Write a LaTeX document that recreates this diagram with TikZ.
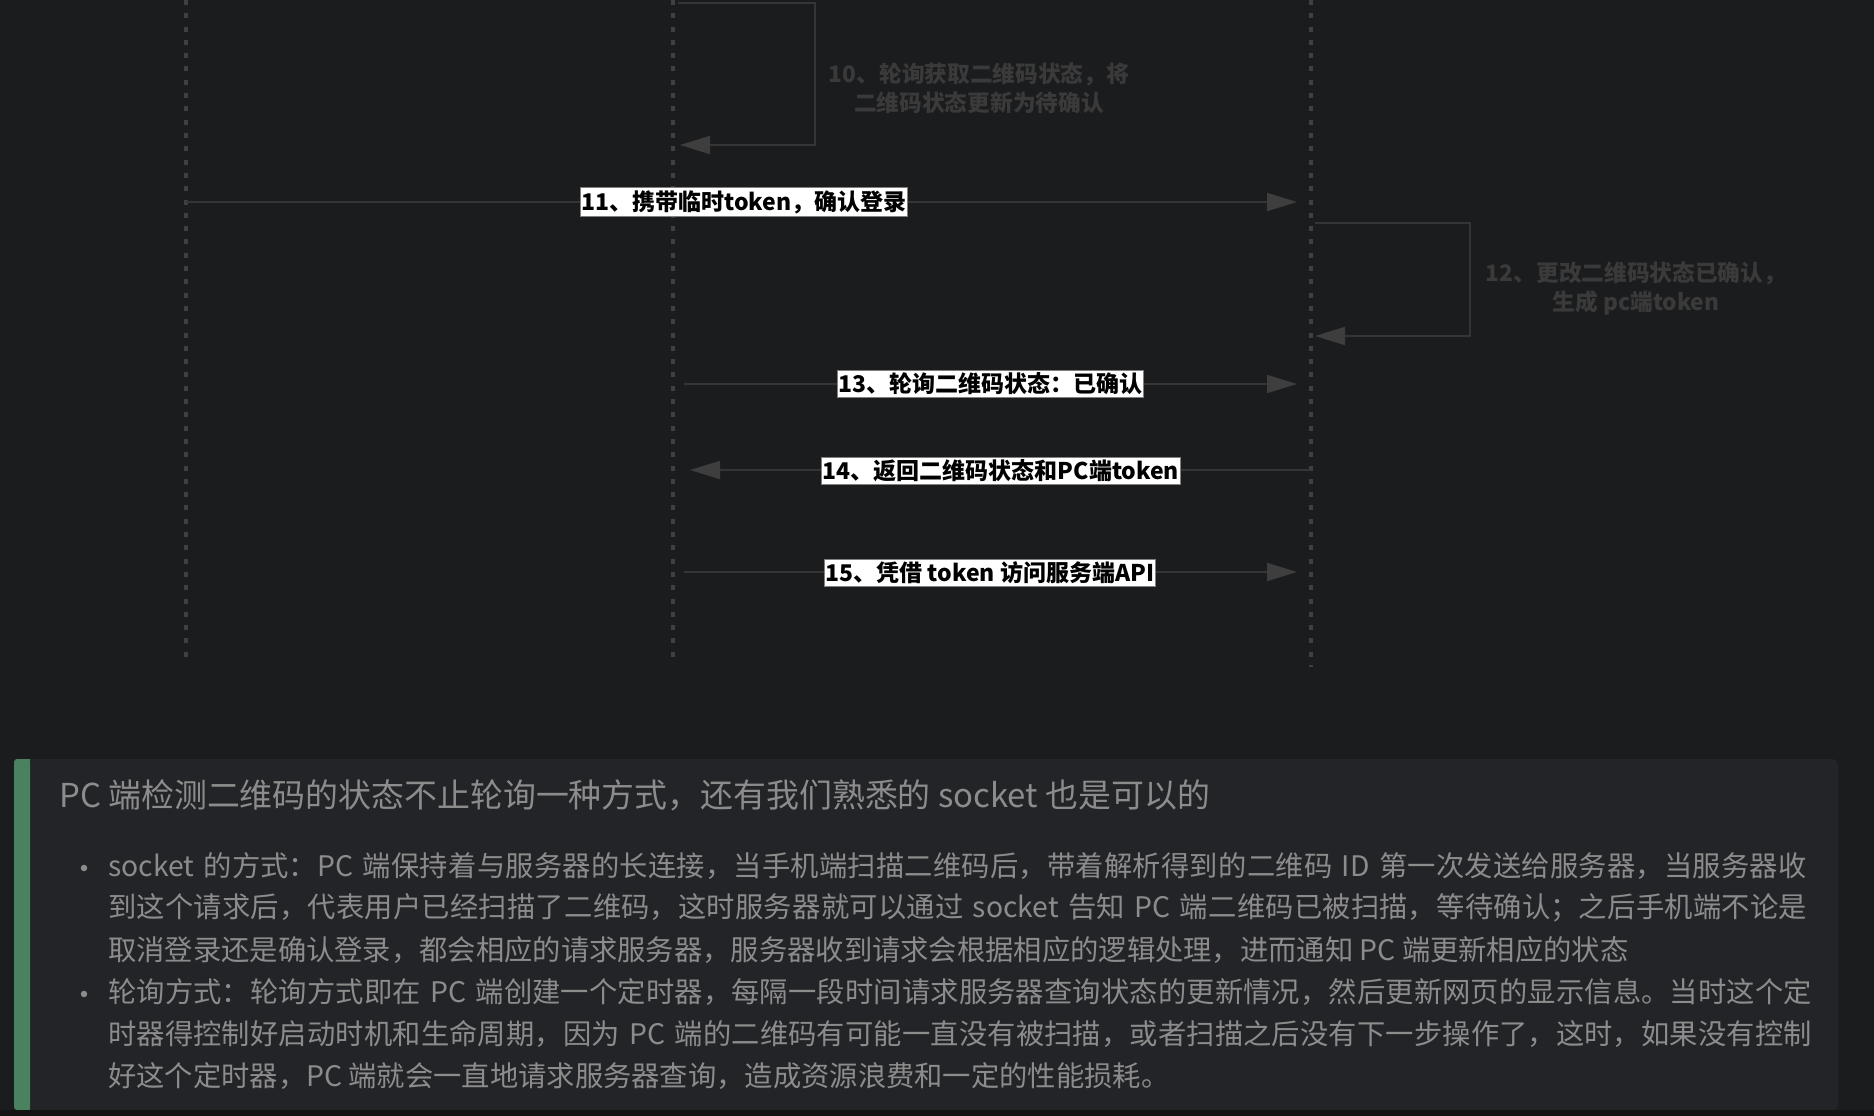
\documentclass[tikz,border=0pt]{standalone}
\usepackage{fontspec}
\setmainfont{Noto Sans CJK SC}
\usetikzlibrary{arrows.meta,positioning}

\XeTeXlinebreaklocale "zh"
\XeTeXlinebreakskip=0pt plus 1pt

\definecolor{pagebg}{HTML}{1B1C1E}
\definecolor{panelbg}{HTML}{232427}
\definecolor{stripbg}{HTML}{141415}
\definecolor{quotegreen}{HTML}{4A8260}
\definecolor{lifegray}{HTML}{404040}
\definecolor{msggray}{HTML}{353535}
\definecolor{tipgray}{HTML}{3E3E3E}
\definecolor{notegray}{HTML}{3A3A3A}
\definecolor{bodygray}{HTML}{8C8C8C}

\tikzset{
  lifeline/.style={draw=lifegray, line width=3.5pt, dash pattern=on 5pt off 8.3pt},
  msg/.style={draw=msggray, line width=2pt,
    -{Triangle[length=30pt,width=18pt,color=tipgray]}},
  msglabel/.style={draw=gray, line width=1pt, fill=white, text=black,
    inner xsep=1pt, inner ysep=2.5pt, font=\fontsize{23}{26}\selectfont\bfseries},
  loopnote/.style={text=notegray, align=center,
    font=\fontsize{22.7}{29}\selectfont\bfseries},
  bodytext/.style={text=bodygray, inner sep=0pt, anchor=west},
  bullet/.style={circle, fill=bodygray, inner sep=0pt, minimum size=6.5pt}
}

\newcommand{\fullline}[1]{\noindent\parfillskip=0pt #1\par}

\begin{document}
\begin{tikzpicture}[x=1pt,y=-1pt]
  \fill[pagebg] (0,0) rectangle (1874,1116);
  \useasboundingbox (0,0) rectangle (1874,1116);

  % lifelines
  \coordinate (phoneTop) at (186,0);
  \coordinate (phoneEnd) at (186,661);
  \coordinate (pcTop) at (673,0);
  \coordinate (pcEnd) at (673,661);
  \coordinate (serverTop) at (1311,0);
  \coordinate (serverEnd) at (1311,667);
  \draw[lifeline] (phoneTop) -- (phoneEnd);
  \draw[lifeline] (pcTop) -- (pcEnd);
  \draw[lifeline] (serverTop) -- (serverEnd);

  % 10
  \coordinate (loop10a) at (678,3);
  \coordinate (loop10b) at (815,3);
  \coordinate (loop10c) at (815,145);
  \coordinate (loop10d) at (673,145);
  \draw[msg, shorten >=7pt] (loop10a) -- (loop10b) -- (loop10c) -- (loop10d);
  \node[loopnote] (note10) at (979,88) {10、轮询获取二维码状态，将\\二维码状态更新为待确认};

  % 11
  \coordinate (msg11s) at (186,202);
  \coordinate (msg11e) at (1311,202);
  \draw[msg, shorten >=14pt] (msg11s) -- (msg11e);
  \node[msglabel] (label11) at (744,202) {11、携带临时token，确认登录};

  % 12
  \coordinate (loop12a) at (1315,223);
  \coordinate (loop12b) at (1470,223);
  \coordinate (loop12c) at (1470,336);
  \coordinate (loop12d) at (1311,336);
  \draw[msg, shorten >=4pt] (loop12a) -- (loop12b) -- (loop12c) -- (loop12d);
  \node[loopnote] (note12) at (1636,288) {12、更改二维码状态已确认，\\生成 pc端token};

  % 13
  \coordinate (msg13s) at (673,384);
  \coordinate (msg13e) at (1311,384);
  \draw[msg, shorten <=11pt, shorten >=14pt] (msg13s) -- (msg13e);
  \node[msglabel] (label13) at (990,384) {13、轮询二维码状态：已确认};

  % 14
  \coordinate (msg14s) at (1311,470);
  \coordinate (msg14e) at (673,470);
  \draw[msg, shorten >=17pt] (msg14s) -- (msg14e);
  \node[msglabel] (label14) at (1001,471) {14、返回二维码状态和PC端token};

  % 15
  \coordinate (msg15s) at (673,572);
  \coordinate (msg15e) at (1311,572);
  \draw[msg, shorten <=11pt, shorten >=14pt] (msg15s) -- (msg15e);
  \node[msglabel] (label15) at (990,573) {15、凭借 token 访问服务端API};

  % quote panel
  \fill[panelbg, rounded corners=6pt] (14,759) rectangle (1838,1110);
  \fill[quotegreen, rounded corners=3pt] (14,759) rectangle (30,1110);
  \fill[quotegreen] (20,759) rectangle (30,1110);
  \fill[stripbg] (0,1110) rectangle (1874,1116);

  \node[bodytext, font=\fontsize{32.9}{38}\selectfont] (heading) at (59,795)
    {PC 端检测二维码的状态不止轮询一种方式，还有我们熟悉的 socket 也是可以的};

  \node[bullet] (dot1) at (84,868) {};
  \node[bodytext, text width=1712pt, font=\fontsize{28.3}{42}\selectfont] (socket1) at (108,866)
    {\fullline{socket 的方式：PC 端保持着与服务器的长连接，当手机端扫描二维码后，带着解析得到的二维码 ID 第一次发送给服务器，当服务器收}};
  \node[bodytext, text width=1712pt, font=\fontsize{28.3}{42}\selectfont] (socket2) at (108,908)
    {\fullline{到这个请求后，代表用户已经扫描了二维码，这时服务器就可以通过 socket 告知 PC 端二维码已被扫描，等待确认；之后手机端不论是}};
  \node[bodytext, font=\fontsize{28.3}{42}\selectfont] (socket3) at (108,950)
    {取消登录还是确认登录，都会相应的请求服务器，服务器收到请求会根据相应的逻辑处理，进而通知 PC 端更新相应的状态};

  \node[bullet] (dot2) at (84,994) {};
  \node[bodytext, text width=1712pt, font=\fontsize{28.3}{42}\selectfont] (poll1) at (108,992)
    {\fullline{轮询方式：轮询方式即在 PC 端创建一个定时器，每隔一段时间请求服务器查询状态的更新情况，然后更新网页的显示信息。当时这个定}};
  \node[bodytext, text width=1712pt, font=\fontsize{28.3}{42}\selectfont] (poll2) at (108,1034)
    {\fullline{时器得控制好启动时机和生命周期，因为 PC 端的二维码有可能一直没有被扫描，或者扫描之后没有下一步操作了，这时，如果没有控制}};
  \node[bodytext, font=\fontsize{28.3}{42}\selectfont] (poll3) at (108,1076)
    {好这个定时器，PC 端就会一直地请求服务器查询，造成资源浪费和一定的性能损耗。};
\end{tikzpicture}
\end{document}
